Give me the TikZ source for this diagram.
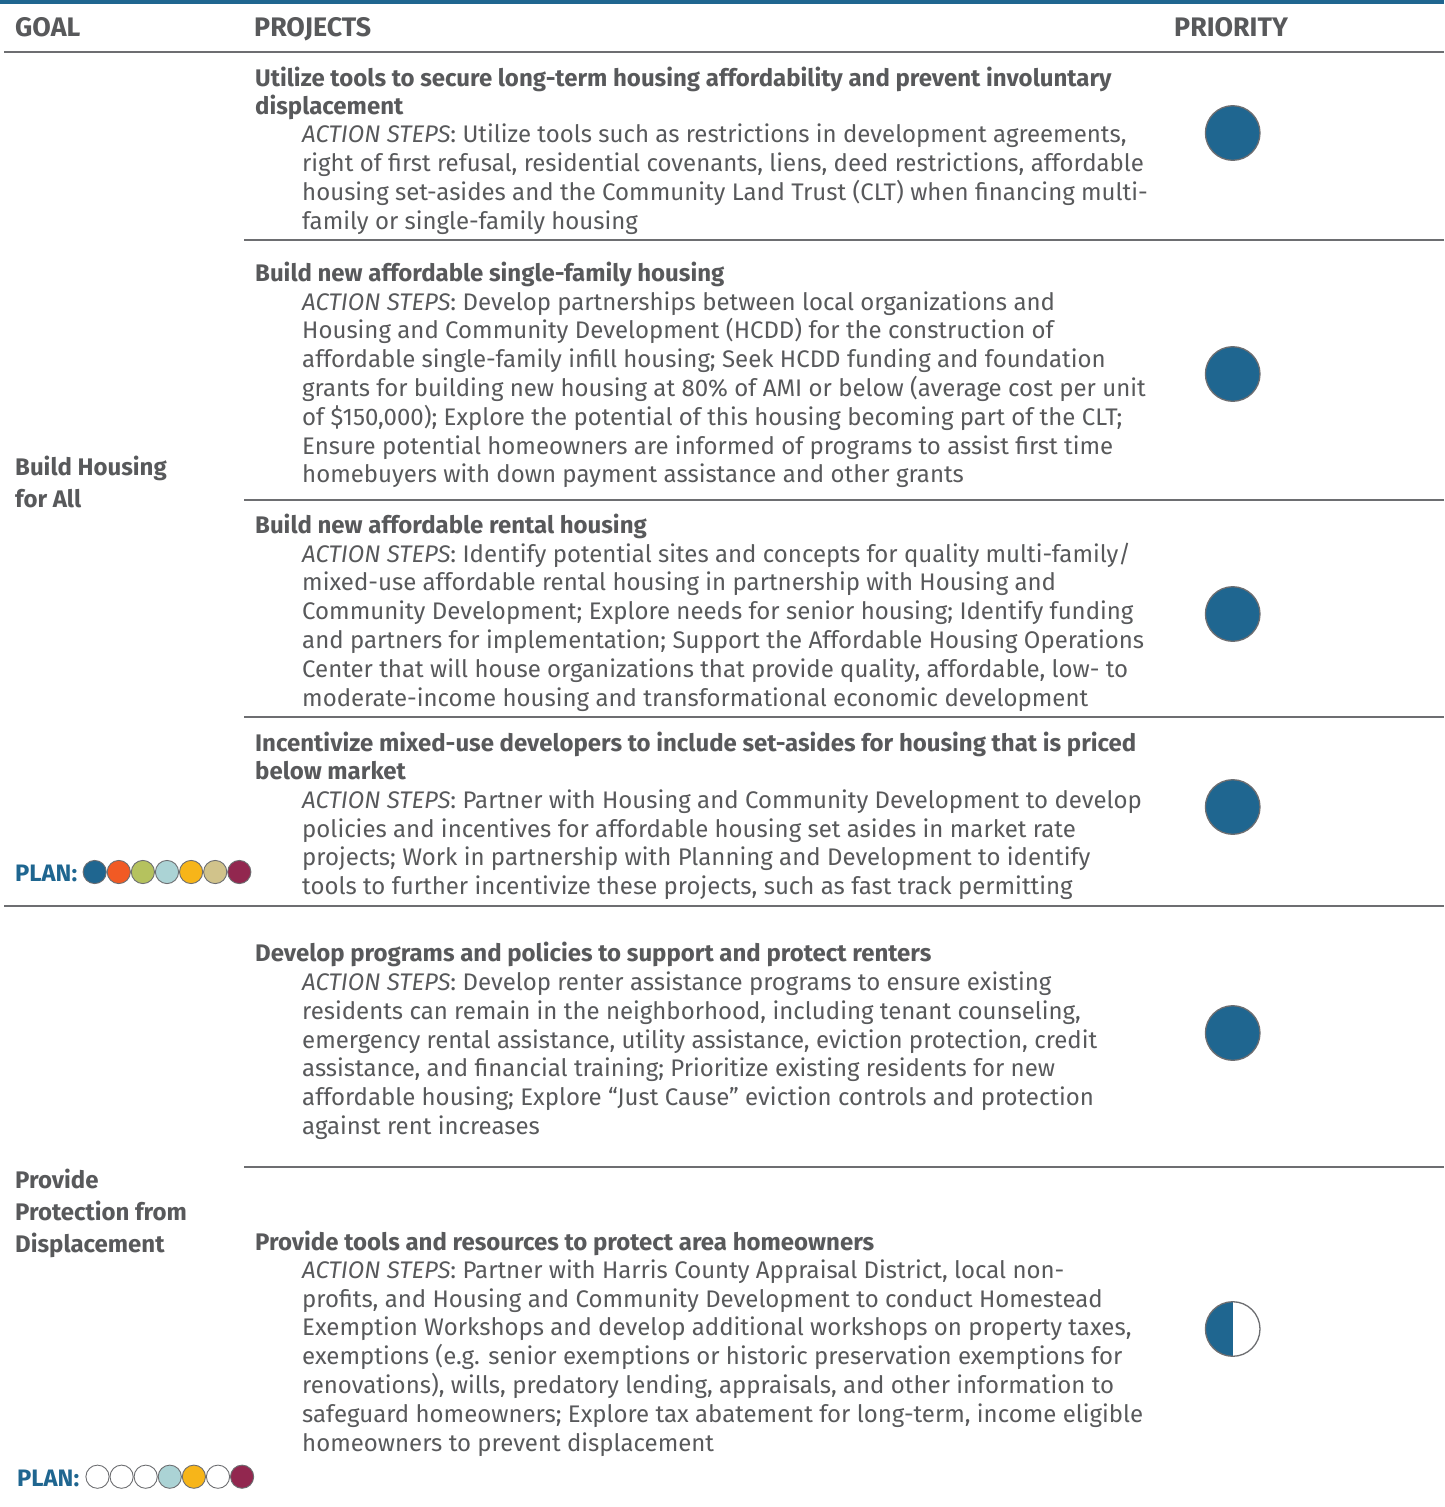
\documentclass[tikz,border=0pt]{standalone}
\usepackage{fontspec}
\setmainfont{Fira Sans}
\usepackage{xcolor}
\usetikzlibrary{positioning}
\definecolor{txtgray}{HTML}{58595B}
\definecolor{rulegray}{HTML}{6D6E71}
\definecolor{planblue}{HTML}{1F6690}
\definecolor{planorange}{HTML}{F15A24}
\definecolor{plangreen}{HTML}{B5C25E}
\definecolor{planaqua}{HTML}{ABD3D5}
\definecolor{planyellow}{HTML}{F7B519}
\definecolor{plantan}{HTML}{D1C38B}
\definecolor{planmaroon}{HTML}{92274F}

\begin{document}
\begin{tikzpicture}[x=1pt,y=-1pt,
    head/.style={anchor=base west,inner sep=0pt,text=txtgray,
        font=\fontsize{26.8}{30}\selectfont\bfseries},
    goal/.style={anchor=base west,inner sep=0pt,align=left,text=txtgray,
        font=\fontsize{24}{32}\selectfont\bfseries},
    proj/.style={anchor=base west,inner sep=0pt,align=left,text=txtgray,
        font=\fontsize{24}{28}\selectfont\bfseries},
    steps/.style={anchor=base west,inner sep=0pt,align=left,text=txtgray,
        font=\fontsize{24}{28.8}\selectfont},
    plan/.style={anchor=base west,inner sep=0pt,text=planblue,
        font=\fontsize{23.8}{28}\selectfont\bfseries},
    prio/.style={circle,draw=rulegray,line width=1.3pt,fill=planblue,
        minimum size=54.6pt,inner sep=0pt},
    halfprio/.style={prio,fill=white,
        path picture={\fill[planblue] (path picture bounding box.south west)
            rectangle (path picture bounding box.north);}},
    dot/.style={circle,draw=rulegray,line width=0.9pt,fill=white,
        minimum size=23.2pt,inner sep=0pt},
    rule/.style={draw=rulegray,line width=1.4pt}]
    \useasboundingbox (0,0) rectangle (1444,1507);

    % table rules
    \draw[planblue,line width=4pt] (0,2) -- (1444,2);
    \draw[rule] (4,52) -- (1444,52);
    \draw[rule] (244,240) -- (1444,240);
    \draw[rule] (244,500) -- (1444,500);
    \draw[rule] (244,717) -- (1444,717);
    \draw[rule] (4,906) -- (1444,906);
    \draw[rule] (244,1167) -- (1444,1167);

    % header
    \node[head] (hgoal) at (15,36.7) {GOAL};
    \node[head] (hproj) at (254,36.7) {PROJECTS};
    \node[head] (hprio) at (1174,36.7) {PRIORITY};

    % goals (placed at the baseline of their last line)
    \node[goal] (g1) at (15,507.5) {Build Housing\\for All};
    \node[goal] (g2) at (15,1252) {Provide\\Protection from\\Displacement};

    % projects
    \node[proj] (t1) at (255,114.4) {Utilize tools to secure long-term housing affordability and prevent involuntary\\displacement};
    \node[steps] (s1) at (302,229.1) {\textit{ACTION STEPS}: Utilize tools such as restrictions in development agreements,\\right of first refusal, residential covenants, liens, deed restrictions, affordable\\housing set-asides and the Community Land Trust (CLT) when financing multi-\\family or single-family housing};

    \node[proj] (t2) at (255,281.7) {Build new affordable single-family housing};
    \node[steps] (s2) at (302,482.8) {\textit{ACTION STEPS}: Develop partnerships between local organizations and\\Housing and Community Development (HCDD) for the construction of\\affordable single-family infill housing; Seek HCDD funding and foundation\\grants for building new housing at 80\% of AMI or below (average cost per unit\\of \$150,000); Explore the potential of this housing becoming part of the CLT;\\Ensure potential homeowners are informed of programs to assist first time\\homebuyers with down payment assistance and other grants};

    \node[proj] (t3) at (255,533.5) {Build new affordable rental housing};
    \node[steps] (s3) at (302,706) {\textit{ACTION STEPS}: Identify potential sites and concepts for quality multi-family/\\mixed-use affordable rental housing in partnership with Housing and\\Community Development; Explore needs for senior housing; Identify funding\\and partners for implementation; Support the Affordable Housing Operations\\Center that will house organizations that provide quality, affordable, low- to\\moderate-income housing and transformational economic development};

    \node[proj] (t4) at (255,779) {Incentivize mixed-use developers to include set-asides for housing that is priced\\below market};
    \node[steps] (s4) at (302,894.6) {\textit{ACTION STEPS}: Partner with Housing and Community Development to develop\\policies and incentives for affordable housing set asides in market rate\\projects; Work in partnership with Planning and Development to identify\\tools to further incentivize these projects, such as fast track permitting};

    \node[proj] (t5) at (255,961.7) {Develop programs and policies to support and protect renters};
    \node[steps] (s5) at (302,1134.5) {\textit{ACTION STEPS}: Develop renter assistance programs to ensure existing\\residents can remain in the neighborhood, including tenant counseling,\\emergency rental assistance, utility assistance, eviction protection, credit\\assistance, and financial training; Prioritize existing residents for new\\affordable housing; Explore “Just Cause” eviction controls and protection\\against rent increases};

    \node[proj] (t6) at (255,1250) {Provide tools and resources to protect area homeowners};
    \node[steps] (s6) at (302,1451) {\textit{ACTION STEPS}: Partner with Harris County Appraisal District, local non-\\profits, and Housing and Community Development to conduct Homestead\\Exemption Workshops and develop additional workshops on property taxes,\\exemptions (e.g. senior exemptions or historic preservation exemptions for\\renovations), wills, predatory lending, appraisals, and other information to\\safeguard homeowners; Explore tax abatement for long-term, income eligible\\homeowners to prevent displacement};

    % priority
    \node[prio] (p1) at (1232.7,133) {};
    \node[prio] (p2) at (1232.7,374) {};
    \node[prio] (p3) at (1232.7,614) {};
    \node[prio] (p4) at (1232.7,807) {};
    \node[prio] (p5) at (1232.7,1033) {};
    \node[halfprio] (p6) at (1232.7,1329) {};

    % plans
    \node[plan] (plan1) at (15,881.7) {PLAN:};
    \node[dot,fill=planblue] (a1) at (94.7,872) {};
    \node[dot,fill=planorange,right=0pt of a1] (a2) {};
    \node[dot,fill=plangreen,right=0pt of a2] (a3) {};
    \node[dot,fill=planaqua,right=0pt of a3] (a4) {};
    \node[dot,fill=planyellow,right=0pt of a4] (a5) {};
    \node[dot,fill=plantan,right=0pt of a5] (a6) {};
    \node[dot,fill=planmaroon,right=0pt of a6] (a7) {};

    \node[plan] (plan2) at (17,1486.7) {PLAN:};
    \node[dot] (b1) at (97.5,1476.7) {};
    \node[dot,right=0pt of b1] (b2) {};
    \node[dot,right=0pt of b2] (b3) {};
    \node[dot,fill=planaqua,right=0pt of b3] (b4) {};
    \node[dot,fill=planyellow,right=0pt of b4] (b5) {};
    \node[dot,right=0pt of b5] (b6) {};
    \node[dot,fill=planmaroon,right=0pt of b6] (b7) {};
\end{tikzpicture}
\end{document}
